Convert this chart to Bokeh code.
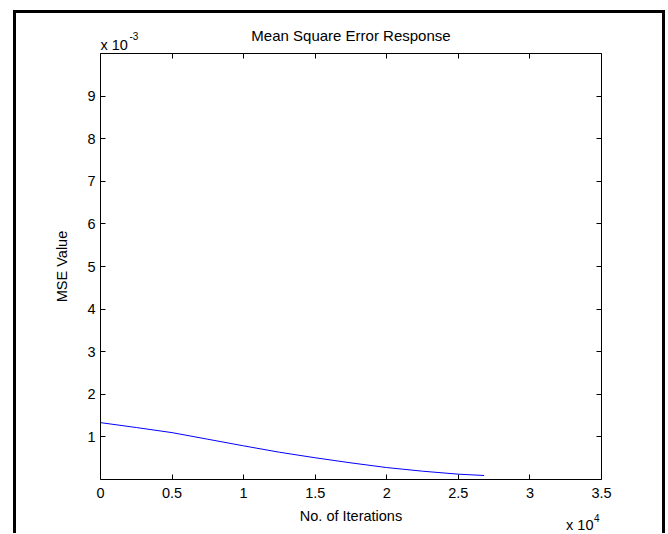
from bokeh.plotting import figure
from bokeh.models import LinearAxis, FixedTicker, CustomJSTickFormatter, Range1d, ColumnDataSource
from bokeh.core.properties import value
from bokeh.embed import file_html
from bokeh.resources import INLINE

# ---- data ----
iterations = [0, 1, 2500, 5000, 7500, 10000, 12500, 15000, 17500, 20000, 22500, 25000, 26800]
mse = [0.012, 0.001335, 0.00122, 0.00110, 0.000945, 0.00079, 0.00064, 0.00051, 0.00039, 0.00028, 0.000195, 0.000125, 0.000094]
x_ticks = [0, 5000, 10000, 15000, 20000, 25000, 30000, 35000]
y_ticks = [0.001, 0.002, 0.003, 0.004, 0.005, 0.006, 0.007, 0.008, 0.009]
x_limits = (0, 35000)
y_limits = (0, 0.01)
title_text = "Mean Square Error Response"
x_label = "No. of Iterations"
y_label = "MSE Value"

FONT = "Liberation Sans"
FS = "14.5px"

p = figure(output_backend="svg", toolbar_location=None,
           frame_width=501, frame_height=426,
           min_border_left=84, min_border_right=61, min_border_top=40, min_border_bottom=54,
           x_range=Range1d(*x_limits), y_range=Range1d(*y_limits),
           x_axis_location=None, y_axis_location=None)
p.margin = (10, 0, 0, 13)
p.styles = {"border-left": "3px solid black", "border-top": "3px solid black",
            "border-right": "3px solid black"}
p.grid.visible = False
p.outline_line_color = None
p.background_fill_color = "white"
p.border_fill_color = "white"

p.title.text = title_text
p.title.align = "center"
p.title.text_font = FONT
p.title.text_font_size = "15px"
p.title.text_font_style = "normal"
p.title.text_color = "black"
p.title.standoff = 20

xfmt = CustomJSTickFormatter(code="return String(Math.round(tick/1000)/10);")
yfmt = CustomJSTickFormatter(code="return String(Math.round(tick*10000)/10);")
nofmt = CustomJSTickFormatter(code="return '';")

def style_axis(ax):
    ax.axis_line_color = "black"
    ax.axis_line_width = 1
    ax.major_tick_in = 5
    ax.major_tick_out = 0
    ax.minor_tick_line_color = None
    ax.major_tick_line_color = "black"
    ax.major_label_text_font = FONT
    ax.major_label_text_font_size = FS
    ax.major_label_text_color = "black"
    ax.axis_label_text_font = FONT
    ax.axis_label_text_font_size = FS
    ax.axis_label_text_font_style = "normal"
    ax.axis_label_text_color = "black"

xb = LinearAxis(ticker=FixedTicker(ticks=x_ticks), formatter=xfmt, axis_label=x_label)
style_axis(xb)
xb.major_label_standoff = 8
xb.axis_label_standoff = 7
p.add_layout(xb, "below")

xt = LinearAxis(ticker=FixedTicker(ticks=x_ticks), formatter=nofmt)
style_axis(xt)
xt.major_label_standoff = 0
p.add_layout(xt, "above")

yl = LinearAxis(ticker=FixedTicker(ticks=y_ticks), formatter=yfmt, axis_label=y_label)
style_axis(yl)
yl.major_label_standoff = 5
yl.axis_label_standoff = 14
p.add_layout(yl, "left")

yr = LinearAxis(ticker=FixedTicker(ticks=y_ticks), formatter=nofmt)
style_axis(yr)
yr.major_label_standoff = 0
p.add_layout(yr, "right")

src = ColumnDataSource(data=dict(x=iterations, y=mse))
p.line("x", "y", source=src, line_color="#0000ff", line_width=1)

# exponent annotations (MATLAB style), anchored to the axis limits
common = dict(text_font=value(FONT), text_color="black", level="overlay")
p.text(x=[x_limits[0]], y=[y_limits[1]], text=["x 10"], x_offset=0, y_offset=-9,
       text_font_size=value(FS), text_align="left", text_baseline="alphabetic", **common)
p.text(x=[x_limits[0]], y=[y_limits[1]], text=["-3"], x_offset=29, y_offset=-18,
       text_font_size=value("10px"), text_align="left", text_baseline="alphabetic", **common)
p.text(x=[x_limits[1]], y=[y_limits[0]], text=["x 10"], x_offset=-8, y_offset=45,
       text_font_size=value(FS), text_align="right", text_baseline="alphabetic", **common)
p.text(x=[x_limits[1]], y=[y_limits[0]], text=["4"], x_offset=-2, y_offset=38,
       text_font_size=value("10px"), text_align="right", text_baseline="alphabetic", **common)

open("out.html", "w").write(file_html(p, INLINE))
